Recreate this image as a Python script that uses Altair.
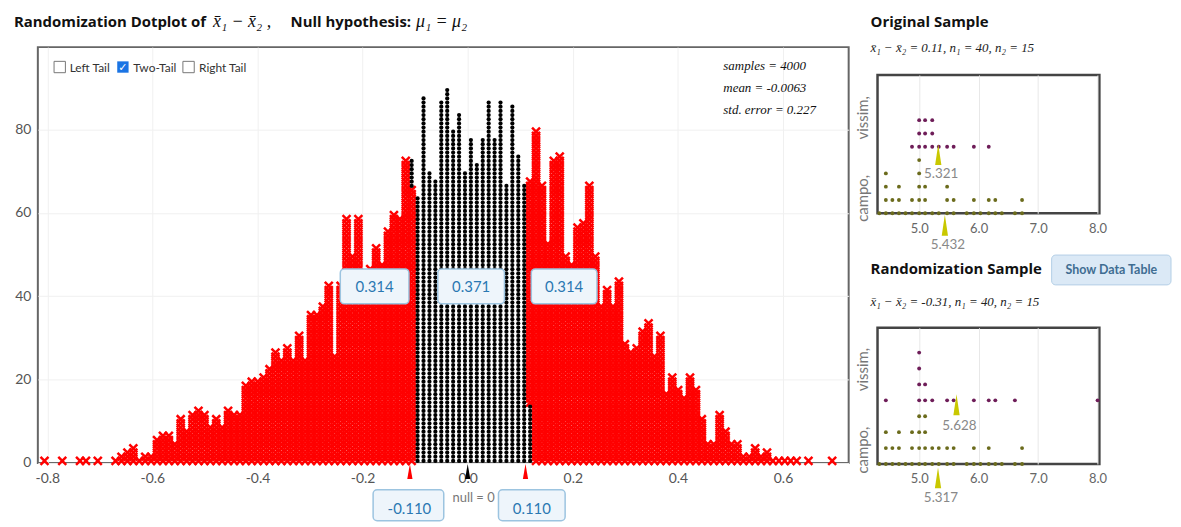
import altair as alt
import pandas as pd

# ---------------- randomization distribution: stacked dot columns ----------------
col_first = -62          # index of the left-most dot column
col_zero = -0.1066       # centre of column index 0
col_step = 0.01127       # spacing between dot columns

left_tail_counts = [1, 0, 0, 1, 0, 0, 1, 1, 0, 1,
                    0, 0, 1, 2, 3, 4, 1, 2, 2, 6,
                    7, 7, 5, 11, 8, 12, 13, 12, 9, 11,
                    9, 13, 12, 12, 19, 20, 20, 21, 23, 27,
                    25, 28, 25, 31, 25, 36, 36, 38, 43, 26,
                    43, 59, 50, 59, 45, 47, 52, 48, 56, 60, 59, 73]
middle_black_counts = [7, 64, 88, 70, 68, 87, 90, 80, 84, 70, 78, 72, 78, 87, 78, 87, 67, 86, 74, 67, 14]
middle_red_counts = [66] + [0] * 19 + [54]
right_tail_counts = [80, 67, 53, 73, 74, 50, 48, 57, 58, 67,
                     50, 38, 42, 38, 44, 29, 27, 28, 32, 34,
                     26, 31, 17, 21, 18, 16, 21, 18, 11, 5,
                     5, 12, 8, 5, 5, 2, 2, 4, 2, 3,
                     1, 1, 1, 1, 1, 0, 1, 0, 0, 0,
                     1]

tail_counts = left_tail_counts + middle_red_counts + right_tail_counts
black_counts = [0] * len(left_tail_counts) + middle_black_counts + [0] * len(right_tail_counts)

x_ticks = [-0.8, -0.6, -0.4, -0.2, 0.0, 0.2, 0.4, 0.6]
y_ticks = [0, 20, 40, 60, 80]
cut_values = [-0.110, 0.0, 0.110]
cut_colors = ["#ff0000", "#000000", "#ff0000"]
prop_labels = ["0.314", "0.371", "0.314"]
cut_labels = ["-0.110", "0.110"]
stats_lines = ["samples = 4000", "mean = -0.0063", "std. error = 0.227"]

# ---------------- original / randomization samples ----------------
sample_bins = [4.33, 4.44, 4.55, 4.66, 4.77, 4.88, 5.0, 5.1, 5.22, 5.33,
               5.47, 5.58, 5.8, 5.92, 6.03, 6.17, 6.28, 6.39, 6.61, 6.73]
orig_campo_counts = [1, 4, 2, 3, 1, 2, 5, 3, 1, 1, 3, 2, 1, 2, 1, 2, 2, 1, 1, 2]
orig_vissim_bins = [4.88, 5.0, 5.1, 5.22, 5.33, 5.47, 5.58, 5.92, 6.17]
orig_vissim_counts = [1, 3, 3, 3, 1, 1, 1, 1, 1]
rand_campo_counts = [1, 3, 2, 3, 1, 3, 4, 4, 2, 2, 2, 2, 1, 2, 1, 2, 1, 1, 1, 2]
rand_vissim_bins = [4.44, 5.0, 5.1, 5.22, 5.47, 5.58, 5.92, 6.17, 6.28, 6.61, 8.0]
rand_vissim_counts = [1, 4, 2, 1, 1, 1, 1, 1, 1, 1, 1]
orig_means = [5.432, 5.321]      # campo, vissim
rand_means = [5.317, 5.628]
sample_ticks = [5.0, 6.0, 7.0, 8.0]

XMARK = "M-1,-1L1,1M1,-1L-1,1"
TRI = "M0,-1L0.35,1L-0.35,1Z"
NARROW_TRI = "M0,-1L0.3,1L-0.3,1Z"
OLIVE = "#6b6b1c"
PURPLE = "#6e1d58"
MARKC = "#c9c800"
BOXFILL = "#eef5fb"
BOXSTROKE = "#9cc4e0"
BOXTEXT = "#2a78b2"
SERIF = "Liberation Serif"
HEAD = "Open Sans"

one = pd.DataFrame({"k": [0]})


def label(text, x, y, **kw):
    return alt.Chart(one).mark_text(text=text, **kw).encode(x=alt.value(x), y=alt.value(y))


def box(x1, x2, y1, y2, **kw):
    return alt.Chart(one).mark_rect(**kw).encode(
        x=alt.value(x1), x2=alt.value(x2), y=alt.value(y1), y2=alt.value(y2))


# ---------------- expand the columns into stacked dots ----------------
rows = []
for k, (t, b) in enumerate(zip(tail_counts, black_counts)):
    xv = col_zero + (col_first + k) * col_step
    stack = [("tail", t), ("center", b)] if xv < 0 else [("center", b), ("tail", t)]
    level = 0
    for kind, n in stack:
        for _ in range(n):
            rows.append({"x": xv, "lvl": level + 0.5, "kind": kind})
            level += 1
dots = pd.DataFrame(rows)

W, H = 815, 418
xs = alt.Scale(domain=[-0.818, 0.725], nice=False, zero=False)
ys = alt.Scale(domain=[0, 99.8], nice=False, zero=False)
x_axis = alt.Axis(values=x_ticks, labelExpr="replace(format(datum.value, '.1f'), '\u2212', '-')",
                  title=None, ticks=False, domain=False, labelFontSize=14, labelColor="#555",
                  labelPadding=9, grid=True, gridColor="#f0f0f0", labelFlush=False)
y_axis = alt.Axis(values=y_ticks, title=None, ticks=False, domain=False, labelFontSize=14,
                  labelColor="#555", labelPadding=7, grid=True, gridColor="#f0f0f0")

red = alt.Chart(dots).transform_filter("datum.kind == 'tail'").mark_point(
    shape=XMARK, filled=False, size=64, strokeWidth=2.5, color="#ff0000", opacity=1
).encode(x=alt.X("x:Q", scale=xs, axis=x_axis), y=alt.Y("lvl:Q", scale=ys, axis=y_axis))

black = alt.Chart(dots).transform_filter("datum.kind == 'center'").mark_circle(
    size=18, color="#000000", opacity=1
).encode(x=alt.X("x:Q", scale=xs, axis=x_axis), y=alt.Y("lvl:Q", scale=ys, axis=y_axis))

cuts = pd.DataFrame({"v": cut_values, "c": cut_colors})
cut_marks = alt.Chart(cuts).mark_point(shape=TRI, filled=True, size=225, opacity=1).encode(
    x=alt.X("v:Q", scale=xs, axis=x_axis), y=alt.value(426.5), color=alt.Color("c:N", scale=None))

anchor = alt.Chart(one).mark_point(size=1, opacity=0).encode(x=alt.value(-28), y=alt.value(-36))

main_layers = [
    anchor, red, black, cut_marks,
    # title
    label("Randomization Dotplot of", -24, -25, align="left", baseline="middle", fontSize=15,
          fontWeight="bold", color="#111", font=HEAD),
    label("x\u0304\u2081 \u2212 x\u0304\u2082 ,", 176, -25, align="left", baseline="middle", fontSize=18,
          font=SERIF, fontStyle="italic", color="#111"),
    label("Null hypothesis:", 254, -25, align="left", baseline="middle", fontSize=15,
          fontWeight="bold", color="#111", font=HEAD),
    label("\u03bc\u2081 = \u03bc\u2082", 380, -25, align="left", baseline="middle", fontSize=18,
          font=SERIF, fontStyle="italic", color="#111"),
    # check boxes
    alt.Chart(one).mark_point(shape="square", filled=False, size=130, color="#777", strokeWidth=1,
                              opacity=1).encode(x=alt.value(22), y=alt.value(20)),
    alt.Chart(one).mark_point(shape="square", filled=True, size=130, color="#1b74e4",
                              opacity=1).encode(x=alt.value(85.5), y=alt.value(20)),
    label("\u2713", 85.5, 20.5, align="center", baseline="middle", fontSize=11, fontWeight="bold",
          color="white", font="DejaVu Sans"),
    alt.Chart(one).mark_point(shape="square", filled=False, size=130, color="#777", strokeWidth=1,
                              opacity=1).encode(x=alt.value(151.5), y=alt.value(20)),
    label("Left Tail", 32, 21, align="left", baseline="middle", fontSize=12, color="#333"),
    label("Two-Tail", 96, 21, align="left", baseline="middle", fontSize=12, color="#333"),
    label("Right Tail", 162, 21, align="left", baseline="middle", fontSize=12, color="#333"),
    # statistics
    label(stats_lines[0], 689, 19, align="left", baseline="middle", fontSize=13, font=SERIF,
          fontStyle="italic", color="#111"),
    label(stats_lines[1], 689, 41, align="left", baseline="middle", fontSize=13, font=SERIF,
          fontStyle="italic", color="#111"),
    label(stats_lines[2], 689, 63, align="left", baseline="middle", fontSize=13, font=SERIF,
          fontStyle="italic", color="#111"),
    # proportion boxes
    box(304, 373, 223, 258, fill=BOXFILL, stroke=BOXSTROKE, strokeWidth=1.5, cornerRadius=4),
    box(402, 469, 223, 258, fill=BOXFILL, stroke=BOXSTROKE, strokeWidth=1.5, cornerRadius=4),
    box(496, 562, 223, 258, fill=BOXFILL, stroke=BOXSTROKE, strokeWidth=1.5, cornerRadius=4),
    label(prop_labels[0], 338.5, 241, align="center", baseline="middle", fontSize=15, color=BOXTEXT),
    label(prop_labels[1], 435.5, 241, align="center", baseline="middle", fontSize=15, color=BOXTEXT),
    label(prop_labels[2], 529, 241, align="center", baseline="middle", fontSize=15, color=BOXTEXT),
    # cut-off boxes under the axis
    label("null = 0", 438, 453, align="center", baseline="middle", fontSize=13, color="#777"),
    box(337, 408, 445, 476, fill=BOXFILL, stroke=BOXSTROKE, strokeWidth=1.5, cornerRadius=4),
    box(463, 530, 445, 476, fill=BOXFILL, stroke=BOXSTROKE, strokeWidth=1.5, cornerRadius=4),
    label(cut_labels[0], 373.5, 464, align="center", baseline="middle", fontSize=15, color=BOXTEXT),
    label(cut_labels[1], 496.5, 464, align="center", baseline="middle", fontSize=15, color=BOXTEXT),
]
main = alt.layer(*main_layers).properties(
    width=W, height=H, view=alt.ViewBackground(stroke="#666", strokeWidth=2))


# ---------------- sample panels ----------------
def sample_panel(campo_counts, v_bins, v_counts, v_offset, y_top, height, means,
                 vissim_mark_y, vissim_lab_y, campo_lab_y, vissim_txt_y,
                 heading, heading_y, subheading, sub_y, with_button):
    prow = []
    for b, c in zip(sample_bins, campo_counts):
        for i in range(c):
            prow.append({"v": b, "lvl": i, "g": "campo"})
    for b, c in zip(v_bins, v_counts):
        for i in range(c):
            prow.append({"v": b, "lvl": v_offset + i, "g": "vissim"})
    df = pd.DataFrame(prow)
    sx = alt.Scale(domain=[4.3, 8.03], nice=False, zero=False)
    sy = alt.Scale(domain=[0, y_top], nice=False, zero=False)
    ax = alt.Axis(values=sample_ticks, format=".1f", title=None, ticks=False, domain=False,
                  labelFontSize=13, labelColor="#666", labelPadding=9, grid=True,
                  gridColor="#e8e8e8", labelFlush=False)
    pts = alt.Chart(df).mark_circle(size=15, opacity=1).encode(
        x=alt.X("v:Q", scale=sx, axis=ax), y=alt.Y("lvl:Q", scale=sy, axis=None),
        color=alt.Color("g:N", scale=alt.Scale(domain=["campo", "vissim"], range=[OLIVE, PURPLE]),
                        legend=None))
    layers = [pts]
    for v, my, ly in [(means[0], 151, 171), (means[1], vissim_mark_y, vissim_lab_y)]:
        d = pd.DataFrame({"v": [v], "lab": [f"{v:.3f}"]})
        layers.append(alt.Chart(d).mark_point(shape=NARROW_TRI, filled=True, size=441, color=MARKC,
                                              opacity=1).encode(
            x=alt.X("v:Q", scale=sx, axis=ax), y=alt.value(my)))
        layers.append(alt.Chart(d).mark_text(fontSize=13.5, color="#888", dx=3, baseline="middle").encode(
            x=alt.X("v:Q", scale=sx, axis=ax), y=alt.value(ly), text="lab:N"))
    layers += [
        label("campo,", -15, campo_lab_y, angle=270, align="center", baseline="middle",
              fontSize=15, color="#777"),
        label("vissim,", -15, vissim_txt_y, angle=270, align="center", baseline="middle",
              fontSize=15, color="#777"),
        label(heading, -7, heading_y, align="left", baseline="middle", fontSize=15,
              fontWeight="bold", color="#111", font=HEAD),
        label(subheading, -7, sub_y, align="left", baseline="middle", fontSize=13, font=SERIF,
              fontStyle="italic", color="#222"),
    ]
    if with_button:
        layers += [
            box(175, 295, -73, -43, fill="#dbe9f6", stroke="#b3cfe6", strokeWidth=1, cornerRadius=4),
            label("Show Data Table", 235, -58, align="center", baseline="middle", fontSize=12.5,
                  fontWeight="bold", color="#3f6d92"),
        ]
    return alt.layer(*layers).properties(
        width=223, height=height, view=alt.ViewBackground(stroke="#444", strokeWidth=2.5))


orig = sample_panel(orig_campo_counts, orig_vissim_bins, orig_vissim_counts, 5, 10.4, 139,
                    orig_means, 80, 100, 124, 43, "Original Sample", -53,
                    "x\u0304\u2081 \u2212 x\u0304\u2082 = 0.11, n\u2081 = 40, n\u2082 = 15", -27, False)
rand = sample_panel(rand_campo_counts, rand_vissim_bins, rand_vissim_counts, 4, 8.5625, 137,
                    rand_means, 77.5, 99, 123, 42, "Randomization Sample", -59,
                    "x\u0304\u2081 \u2212 x\u0304\u2082 = -0.31, n\u2081 = 40, n\u2082 = 15", -26, True)

spacer = alt.Chart(one).mark_point(opacity=0, size=1).encode(
    x=alt.value(0), y=alt.value(0)).properties(width=223, height=28)

right = alt.vconcat(spacer, alt.vconcat(orig, rand, spacing=115, bounds="flush"),
                    spacing=0, bounds="flush")

chart = alt.hconcat(main, right, spacing=29, bounds="flush").properties(padding=0).configure(
    font="Lato").configure_view(strokeWidth=0)

chart.save("out.html", embed_options={"renderer": "svg", "actions": False})
